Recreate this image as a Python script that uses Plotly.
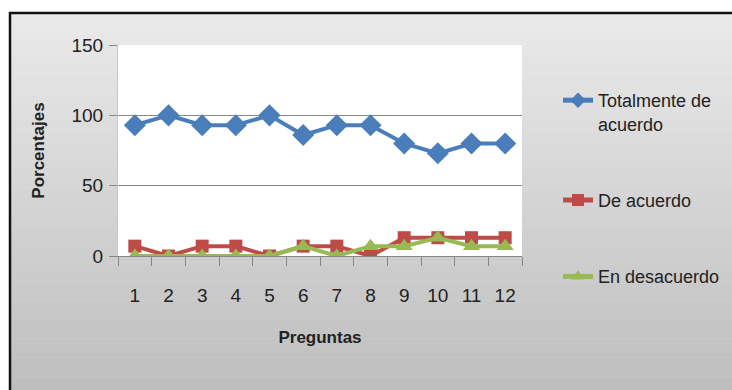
import plotly.graph_objects as go

preguntas = ["1", "2", "3", "4", "5", "6", "7", "8", "9", "10", "11", "12"]
totalmente = [93, 100, 93, 93, 100, 86, 93, 93, 80, 73, 80, 80]
de_acuerdo = [7, 0, 7, 7, 0, 7, 7, 0, 13, 13, 13, 13]
desacuerdo = [0, 0, 0, 0, 0, 7, 0, 7, 7, 13, 7, 7]
y_ticks = [0, 50, 100, 150]

W, H = 732, 390
L, R, T, B = 118, 210, 45, 134
pw, ph = W - L - R, H - T - B

def px(x):
    return (x - L) / pw

def py(y):
    return (H - B - y) / ph

FONT = "Liberation Sans Narrow, Liberation Sans, Arial"

fig = go.Figure()
fig.add_trace(go.Scatter(x=preguntas, y=totalmente, name="Totalmente de<br>acuerdo",
                         legendgroup="a",
                         mode="lines+markers", line=dict(color="#4A7EBB", width=4),
                         marker=dict(symbol="diamond", size=17, color="#4A7EBB")))
fig.add_trace(go.Scatter(x=preguntas, y=de_acuerdo, name="De acuerdo",
                         legendgroup="b",
                         mode="lines+markers", line=dict(color="#BE4B48", width=4),
                         marker=dict(symbol="square", size=13, color="#BE4B48")))
fig.add_trace(go.Scatter(x=preguntas, y=desacuerdo, name="En desacuerdo",
                         legendgroup="c",
                         mode="lines+markers", line=dict(color="#98B954", width=4),
                         marker=dict(symbol="triangle-up", size=15, color="#98B954")))

shapes = []
# gradient background bands
n = 120
top, bot = 12, 392
for i in range(n):
    y0 = top + (bot - top) * i / n
    y1 = top + (bot - top) * (i + 1) / n + 0.6
    t = i / (n - 1)
    c = int(round(234 - (234 - 190) * t))
    shapes.append(dict(type="rect", xref="paper", yref="paper", layer="below",
                       x0=px(10), x1=px(735), y0=py(y1), y1=py(y0),
                       line=dict(width=0), fillcolor=f"rgb({c},{c},{c})"))
# plot area white
shapes.append(dict(type="rect", xref="paper", yref="paper", layer="below",
                   x0=0, x1=1, y0=0, y1=1, line=dict(width=0), fillcolor="white"))
# outer border
shapes.append(dict(type="line", xref="paper", yref="paper", x0=px(9), x1=px(740),
                   y0=py(13), y1=py(13), line=dict(color="#111111", width=2.5)))
shapes.append(dict(type="line", xref="paper", yref="paper", x0=px(10), x1=px(10),
                   y0=py(12), y1=py(395), line=dict(color="#111111", width=2.5)))

fig.update_layout(
    width=W, height=H,
    margin=dict(l=L, r=R, t=T, b=B, pad=0, autoexpand=False),
    paper_bgcolor="white", plot_bgcolor="white",
    shapes=shapes,
    showlegend=True,
    legend=dict(x=px(558), y=py(82), xanchor="left", yanchor="top",
                bgcolor="rgba(0,0,0,0)", font=dict(family=FONT, size=18, color="#222222"),
                tracegroupgap=50, valign="top", itemsizing="constant", maxheight=360),
    xaxis=dict(type="category", showgrid=False, showline=True, linecolor="#868686",
               linewidth=1, ticks="outside", tickson="boundaries", ticklen=9,
               tickcolor="#868686", ticklabelstandoff=22, automargin=False,
               tickfont=dict(family=FONT, size=19, color="#222222"),
               title=dict(text="<b>Preguntas</b>", font=dict(family=FONT, size=17, color="#222222"),
                          standoff=26),
               range=[-0.5, 11.5]),
    yaxis=dict(range=[0, 150], tickvals=y_ticks, showgrid=True, gridcolor="#868686",
               gridwidth=1, zeroline=False, showline=True, linecolor="#C8C8C8",
               ticks="outside", ticklen=8, tickcolor="#868686", ticklabelstandoff=2,
               automargin=False,
               tickfont=dict(family=FONT, size=19, color="#222222"),
               title=dict(text="<b>Porcentajes</b>", font=dict(family="Liberation Sans, Arial", size=17, color="#222222"),
                          standoff=22)),
)

fig.write_html("out.html")
